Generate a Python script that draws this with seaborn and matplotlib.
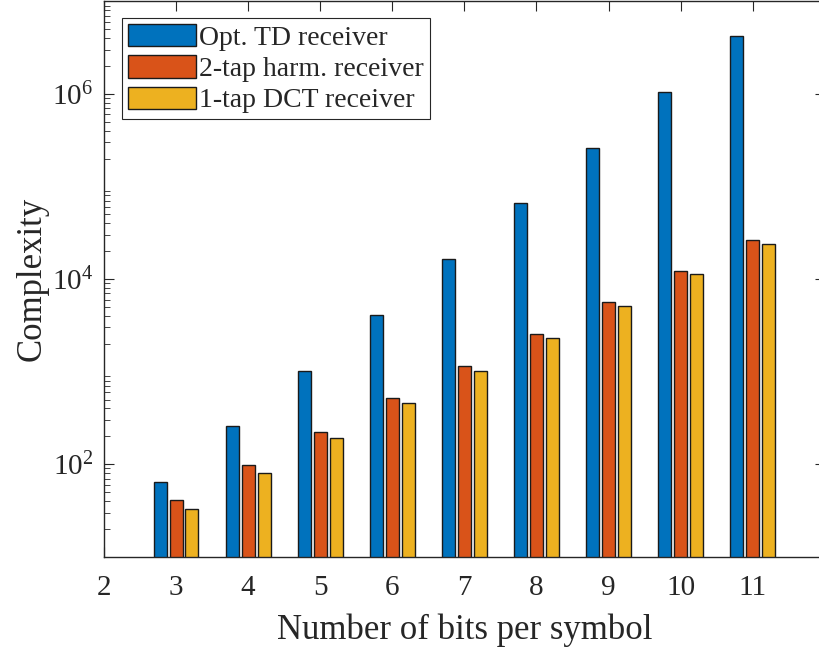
import pandas as pd
import matplotlib
matplotlib.use('Agg')
import matplotlib.pyplot as plt
import seaborn as sns

# bits per symbol and complexity of each receiver
bits = [3, 4, 5, 6, 7, 8, 9, 10, 11]
opt_td = [64, 256, 1024, 4096, 16384, 65536, 262144, 1048576, 4194304]
harm_2tap = [41, 97, 225, 513, 1160, 2560, 5610, 12100, 26300]
dct_1tap = [32.6, 81, 194, 453, 1025, 2300, 5090, 11230, 24200]
receivers = ['Opt. TD receiver', '2-tap harm. receiver', '1-tap DCT receiver']
colors = ['#0072BD', '#D95319', '#EDB120']

df = pd.DataFrame({'bits': bits * 3,
                   'complexity': opt_td + harm_2tap + dct_1tap,
                   'receiver': [r for r in receivers for _ in bits]})

sns.set_style('ticks')
plt.rcParams['font.family'] = ['Liberation Serif', 'DejaVu Serif']
plt.rcParams['mathtext.fontset'] = 'custom'
plt.rcParams['mathtext.rm'] = 'Liberation Serif'
plt.rcParams['mathtext.it'] = 'Liberation Serif:italic'

fig = plt.figure(figsize=(8.19, 6.52), dpi=100)
ax = fig.add_axes([0.127, 0.146, 0.88, 0.852])
ax.set_yscale('log')

sns.barplot(data=df, x='bits', y='complexity', hue='receiver', hue_order=receivers,
            palette=colors, native_scale=True, width=0.66, gap=0.18,
            edgecolor='#1a1a1a', linewidth=1.0, saturation=1, ax=ax)

ax.set_xlim(2, 12)
ax.set_ylim(10, 1e7)
ax.set_xticks(range(2, 12))
ax.set_xticklabels([str(i) for i in range(2, 12)])
ax.set_yticks([1e2, 1e4, 1e6])
ax.set_yticklabels(['$\\mathregular{10^2}$', '$\\mathregular{10^4}$', '$\\mathregular{10^6}$'])

ax.set_xlabel('Number of bits per symbol', fontsize=25, color='#262626', labelpad=9)
ax.set_ylabel('Complexity', fontsize=25, color='#262626', labelpad=2)
ax.tick_params(axis='both', which='both', direction='in', top=True, right=True,
               colors='#262626')
ax.tick_params(axis='x', labelsize=21, pad=13)
ax.tick_params(axis='y', labelsize=21, pad=8)
ax.tick_params(which='major', length=7)
ax.tick_params(which='minor', length=4)
for s in ax.spines.values():
    s.set_color('#262626')
    s.set_linewidth(1.0)

leg = ax.legend(loc='upper left', bbox_to_anchor=(0.025, 0.97), fontsize=20,
                frameon=True, fancybox=False, edgecolor='#262626', framealpha=1,
                handlelength=2.45, handleheight=0.86, handletextpad=0.1,
                labelspacing=0.16, borderpad=0.22, borderaxespad=0)
leg.get_frame().set_linewidth(0.8)

fig.savefig('out.png', dpi=100)
